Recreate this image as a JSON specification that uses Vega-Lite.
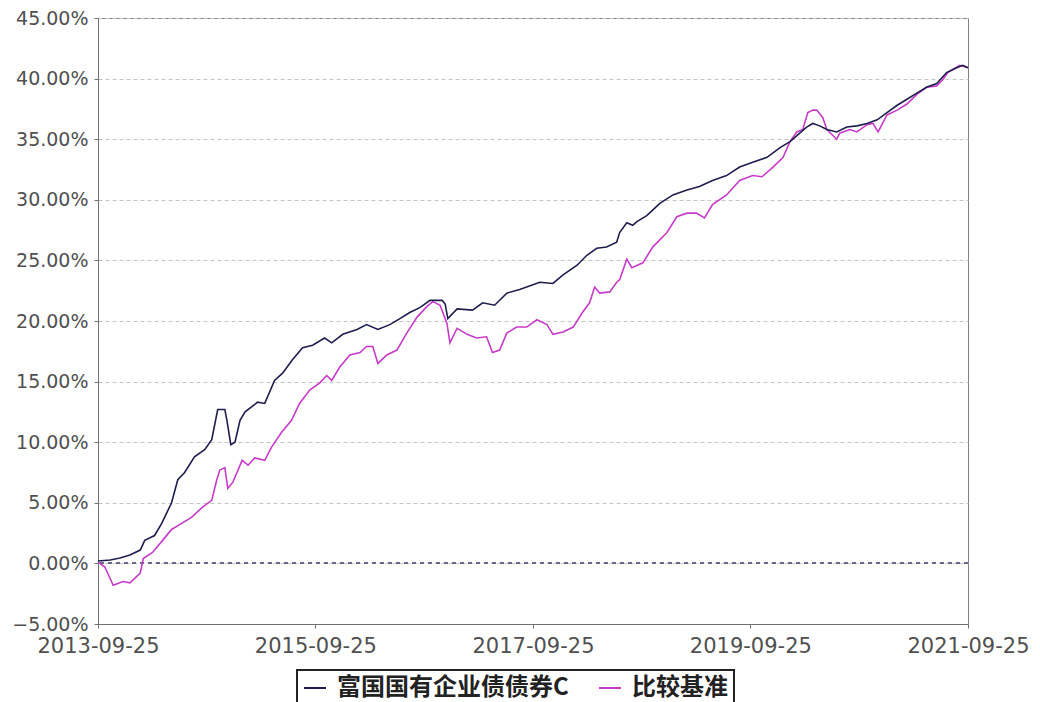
{
  "$schema": "https://vega.github.io/schema/vega-lite/v6.json",
  "width": 870,
  "height": 606,
  "autosize": {"type": "none"},
  "padding": {"left": 98, "top": 18, "right": 72, "bottom": 78},
  "background": "white",
  "config": {
    "view": {"stroke": "#808080", "strokeWidth": 1},
    "axis": {
      "labelFont": "DejaVu Sans",
      "labelFontSize": 19,
      "labelColor": "#505050",
      "domainColor": "#707070",
      "tickColor": "#707070",
      "tickSize": 4,
      "title": null
    },
    "legend": {"strokeWidth": 2}
  },
  "data": {
    "values": [
      {"d": "2013-09-25", "s": "比较基准", "v": 0.1},
      {"d": "2013-10-18", "s": "比较基准", "v": -0.3},
      {"d": "2013-11-15", "s": "比较基准", "v": -1.8},
      {"d": "2013-12-18", "s": "比较基准", "v": -1.5},
      {"d": "2014-01-10", "s": "比较基准", "v": -1.6},
      {"d": "2014-02-14", "s": "比较基准", "v": -0.8},
      {"d": "2014-02-24", "s": "比较基准", "v": 0.4},
      {"d": "2014-03-27", "s": "比较基准", "v": 0.9},
      {"d": "2014-04-30", "s": "比较基准", "v": 1.9},
      {"d": "2014-05-30", "s": "比较基准", "v": 2.8},
      {"d": "2014-07-03", "s": "比较基准", "v": 3.3},
      {"d": "2014-08-05", "s": "比较基准", "v": 3.8},
      {"d": "2014-09-09", "s": "比较基准", "v": 4.6},
      {"d": "2014-10-12", "s": "比较基准", "v": 5.2},
      {"d": "2014-10-29", "s": "比较基准", "v": 6.9},
      {"d": "2014-11-08", "s": "比较基准", "v": 7.7},
      {"d": "2014-11-25", "s": "比较基准", "v": 7.9},
      {"d": "2014-12-05", "s": "比较基准", "v": 6.2},
      {"d": "2014-12-22", "s": "比较基准", "v": 6.7},
      {"d": "2015-01-22", "s": "比较基准", "v": 8.5},
      {"d": "2015-02-11", "s": "比较基准", "v": 8.1},
      {"d": "2015-03-05", "s": "比较基准", "v": 8.7},
      {"d": "2015-04-08", "s": "比较基准", "v": 8.5},
      {"d": "2015-05-01", "s": "比较基准", "v": 9.6},
      {"d": "2015-06-03", "s": "比较基准", "v": 10.8},
      {"d": "2015-07-07", "s": "比较基准", "v": 11.8},
      {"d": "2015-08-03", "s": "比较基准", "v": 13.2},
      {"d": "2015-09-06", "s": "比较基准", "v": 14.3},
      {"d": "2015-10-10", "s": "比较基准", "v": 14.9},
      {"d": "2015-11-02", "s": "比较基准", "v": 15.5},
      {"d": "2015-11-19", "s": "比较基准", "v": 15.1},
      {"d": "2015-12-16", "s": "比较基准", "v": 16.2},
      {"d": "2016-01-19", "s": "比较基准", "v": 17.2},
      {"d": "2016-02-22", "s": "比较基准", "v": 17.4},
      {"d": "2016-03-15", "s": "比较基准", "v": 17.9},
      {"d": "2016-04-05", "s": "比较基准", "v": 17.9},
      {"d": "2016-04-22", "s": "比较基准", "v": 16.5},
      {"d": "2016-05-22", "s": "比较基准", "v": 17.2},
      {"d": "2016-06-25", "s": "比较基准", "v": 17.6},
      {"d": "2016-07-28", "s": "比较基准", "v": 19.0},
      {"d": "2016-08-31", "s": "比较基准", "v": 20.3},
      {"d": "2016-10-04", "s": "比较基准", "v": 21.2},
      {"d": "2016-10-24", "s": "比较基准", "v": 21.6},
      {"d": "2016-11-17", "s": "比较基准", "v": 21.3},
      {"d": "2016-12-10", "s": "比较基准", "v": 19.8},
      {"d": "2016-12-20", "s": "比较基准", "v": 18.2},
      {"d": "2017-01-13", "s": "比较基准", "v": 19.4},
      {"d": "2017-02-16", "s": "比较基准", "v": 18.9},
      {"d": "2017-03-19", "s": "比较基准", "v": 18.6},
      {"d": "2017-04-22", "s": "比较基准", "v": 18.7},
      {"d": "2017-05-12", "s": "比较基准", "v": 17.4},
      {"d": "2017-06-05", "s": "比较基准", "v": 17.6},
      {"d": "2017-06-29", "s": "比较基准", "v": 19.0},
      {"d": "2017-08-01", "s": "比较基准", "v": 19.5},
      {"d": "2017-09-04", "s": "比较基准", "v": 19.5},
      {"d": "2017-10-08", "s": "比较基准", "v": 20.1},
      {"d": "2017-11-11", "s": "比较基准", "v": 19.7},
      {"d": "2017-12-01", "s": "比较基准", "v": 18.9},
      {"d": "2018-01-04", "s": "比较基准", "v": 19.1},
      {"d": "2018-02-07", "s": "比较基准", "v": 19.5},
      {"d": "2018-03-10", "s": "比较基准", "v": 20.7},
      {"d": "2018-04-03", "s": "比较基准", "v": 21.5},
      {"d": "2018-04-20", "s": "比较基准", "v": 22.8},
      {"d": "2018-05-07", "s": "比较基准", "v": 22.3},
      {"d": "2018-06-10", "s": "比较基准", "v": 22.4},
      {"d": "2018-07-03", "s": "比较基准", "v": 23.2},
      {"d": "2018-07-13", "s": "比较基准", "v": 23.4},
      {"d": "2018-08-06", "s": "比较基准", "v": 25.1},
      {"d": "2018-08-23", "s": "比较基准", "v": 24.4},
      {"d": "2018-09-29", "s": "比较基准", "v": 24.8},
      {"d": "2018-11-01", "s": "比较基准", "v": 26.1},
      {"d": "2018-12-19", "s": "比较基准", "v": 27.3},
      {"d": "2019-01-21", "s": "比较基准", "v": 28.6},
      {"d": "2019-02-24", "s": "比较基准", "v": 28.9},
      {"d": "2019-03-28", "s": "比较基准", "v": 28.9},
      {"d": "2019-04-24", "s": "比较基准", "v": 28.5},
      {"d": "2019-05-21", "s": "比较基准", "v": 29.6},
      {"d": "2019-07-07", "s": "比较基准", "v": 30.4},
      {"d": "2019-08-20", "s": "比较基准", "v": 31.6},
      {"d": "2019-10-03", "s": "比较基准", "v": 32.0},
      {"d": "2019-11-03", "s": "比较基准", "v": 31.9},
      {"d": "2019-12-10", "s": "比较基准", "v": 32.7},
      {"d": "2020-01-13", "s": "比较基准", "v": 33.5},
      {"d": "2020-02-05", "s": "比较基准", "v": 34.8},
      {"d": "2020-02-28", "s": "比较基准", "v": 35.6},
      {"d": "2020-03-19", "s": "比较基准", "v": 35.8},
      {"d": "2020-04-05", "s": "比较基准", "v": 37.2},
      {"d": "2020-04-22", "s": "比较基准", "v": 37.4},
      {"d": "2020-05-05", "s": "比较基准", "v": 37.4},
      {"d": "2020-05-25", "s": "比较基准", "v": 36.8},
      {"d": "2020-06-08", "s": "比较基准", "v": 35.8},
      {"d": "2020-07-11", "s": "比较基准", "v": 35.0},
      {"d": "2020-07-21", "s": "比较基准", "v": 35.5},
      {"d": "2020-08-24", "s": "比较基准", "v": 35.8},
      {"d": "2020-09-17", "s": "比较基准", "v": 35.6},
      {"d": "2020-10-21", "s": "比较基准", "v": 36.2},
      {"d": "2020-11-10", "s": "比较基准", "v": 36.3},
      {"d": "2020-11-27", "s": "比较基准", "v": 35.6},
      {"d": "2020-12-27", "s": "比较基准", "v": 37.0},
      {"d": "2021-01-30", "s": "比较基准", "v": 37.4},
      {"d": "2021-03-04", "s": "比较基准", "v": 37.9},
      {"d": "2021-04-06", "s": "比较基准", "v": 38.7},
      {"d": "2021-05-10", "s": "比较基准", "v": 39.3},
      {"d": "2021-06-12", "s": "比较基准", "v": 39.4},
      {"d": "2021-07-02", "s": "比较基准", "v": 39.9},
      {"d": "2021-07-19", "s": "比较基准", "v": 40.5},
      {"d": "2021-08-28", "s": "比较基准", "v": 41.1},
      {"d": "2021-09-25", "s": "比较基准", "v": 40.9},
      {"d": "2013-09-25", "s": "富国国有企业债债券C", "v": 0.2},
      {"d": "2013-11-05", "s": "富国国有企业债债券C", "v": 0.28},
      {"d": "2013-12-08", "s": "富国国有企业债债券C", "v": 0.45},
      {"d": "2014-01-10", "s": "富国国有企业债债券C", "v": 0.7},
      {"d": "2014-02-14", "s": "富国国有企业债债券C", "v": 1.1},
      {"d": "2014-03-01", "s": "富国国有企业债债券C", "v": 1.9},
      {"d": "2014-04-03", "s": "富国国有企业债债券C", "v": 2.3},
      {"d": "2014-04-27", "s": "富国国有企业债债券C", "v": 3.3},
      {"d": "2014-05-30", "s": "富国国有企业债债券C", "v": 5.0},
      {"d": "2014-06-20", "s": "富国国有企业债债券C", "v": 6.9},
      {"d": "2014-07-13", "s": "富国国有企业债债券C", "v": 7.5},
      {"d": "2014-08-15", "s": "富国国有企业债债券C", "v": 8.8},
      {"d": "2014-09-19", "s": "富国国有企业债债券C", "v": 9.4},
      {"d": "2014-10-12", "s": "富国国有企业债债券C", "v": 10.2},
      {"d": "2014-11-01", "s": "富国国有企业债债券C", "v": 12.7},
      {"d": "2014-11-25", "s": "富国国有企业债债券C", "v": 12.7},
      {"d": "2014-12-02", "s": "富国国有企业债债券C", "v": 11.8},
      {"d": "2014-12-15", "s": "富国国有企业债债券C", "v": 9.8},
      {"d": "2014-12-29", "s": "富国国有企业债债券C", "v": 10.0},
      {"d": "2015-01-15", "s": "富国国有企业债债券C", "v": 11.8},
      {"d": "2015-02-01", "s": "富国国有企业债债券C", "v": 12.5},
      {"d": "2015-03-15", "s": "富国国有企业债债券C", "v": 13.3},
      {"d": "2015-04-08", "s": "富国国有企业债债券C", "v": 13.2},
      {"d": "2015-05-11", "s": "富国国有企业债债券C", "v": 15.1},
      {"d": "2015-06-07", "s": "富国国有企业债债券C", "v": 15.7},
      {"d": "2015-07-10", "s": "富国国有企业债债券C", "v": 16.8},
      {"d": "2015-08-13", "s": "富国国有企业债债券C", "v": 17.8},
      {"d": "2015-09-16", "s": "富国国有企业债债券C", "v": 18.0},
      {"d": "2015-10-26", "s": "富国国有企业债债券C", "v": 18.6},
      {"d": "2015-11-19", "s": "富国国有企业债债券C", "v": 18.2},
      {"d": "2015-12-26", "s": "富国国有企业债债券C", "v": 18.9},
      {"d": "2016-02-12", "s": "富国国有企业债债券C", "v": 19.3},
      {"d": "2016-03-15", "s": "富国国有企业债债券C", "v": 19.7},
      {"d": "2016-04-22", "s": "富国国有企业债债券C", "v": 19.3},
      {"d": "2016-06-01", "s": "富国国有企业债债券C", "v": 19.7},
      {"d": "2016-07-05", "s": "富国国有企业债债券C", "v": 20.2},
      {"d": "2016-08-07", "s": "富国国有企业债债券C", "v": 20.7},
      {"d": "2016-09-10", "s": "富国国有企业债债券C", "v": 21.1},
      {"d": "2016-10-14", "s": "富国国有企业债债券C", "v": 21.7},
      {"d": "2016-11-24", "s": "富国国有企业债债券C", "v": 21.7},
      {"d": "2016-12-04", "s": "富国国有企业债债券C", "v": 21.4},
      {"d": "2016-12-13", "s": "富国国有企业债债券C", "v": 20.2},
      {"d": "2017-01-13", "s": "富国国有企业债债券C", "v": 21.0},
      {"d": "2017-03-06", "s": "富国国有企业债债券C", "v": 20.9},
      {"d": "2017-04-09", "s": "富国国有企业债债券C", "v": 21.5},
      {"d": "2017-05-19", "s": "富国国有企业债债券C", "v": 21.3},
      {"d": "2017-06-29", "s": "富国国有企业债债券C", "v": 22.3},
      {"d": "2017-08-11", "s": "富国国有企业债债券C", "v": 22.6},
      {"d": "2017-10-18", "s": "富国国有企业债债券C", "v": 23.2},
      {"d": "2017-12-01", "s": "富国国有企业债债券C", "v": 23.1},
      {"d": "2018-01-04", "s": "富国国有企业债债券C", "v": 23.8},
      {"d": "2018-02-20", "s": "富国国有企业债债券C", "v": 24.6},
      {"d": "2018-03-24", "s": "富国国有企业债债券C", "v": 25.4},
      {"d": "2018-04-27", "s": "富国国有企业债债券C", "v": 26.0},
      {"d": "2018-05-30", "s": "富国国有企业债债券C", "v": 26.1},
      {"d": "2018-07-03", "s": "富国国有企业债债券C", "v": 26.5},
      {"d": "2018-07-13", "s": "富国国有企业债债券C", "v": 27.3},
      {"d": "2018-08-06", "s": "富国国有企业债债券C", "v": 28.1},
      {"d": "2018-08-26", "s": "富国国有企业债债券C", "v": 27.9},
      {"d": "2018-09-09", "s": "富国国有企业债债券C", "v": 28.2},
      {"d": "2018-10-12", "s": "富国国有企业债债券C", "v": 28.7},
      {"d": "2018-11-25", "s": "富国国有企业债债券C", "v": 29.7},
      {"d": "2019-01-08", "s": "富国国有企业债债券C", "v": 30.4},
      {"d": "2019-02-24", "s": "富国国有企业债债券C", "v": 30.8},
      {"d": "2019-04-07", "s": "富国国有企业债债券C", "v": 31.1},
      {"d": "2019-05-21", "s": "富国国有企业债债券C", "v": 31.6},
      {"d": "2019-07-07", "s": "富国国有企业债债券C", "v": 32.0},
      {"d": "2019-08-20", "s": "富国国有企业债债券C", "v": 32.7},
      {"d": "2019-10-03", "s": "富国国有企业债债券C", "v": 33.1},
      {"d": "2019-11-20", "s": "富国国有企业债债券C", "v": 33.5},
      {"d": "2020-01-03", "s": "富国国有企业债债券C", "v": 34.3},
      {"d": "2020-02-05", "s": "富国国有企业债债券C", "v": 34.8},
      {"d": "2020-03-09", "s": "富国国有企业债债券C", "v": 35.5},
      {"d": "2020-04-01", "s": "富国国有企业债债券C", "v": 36.0},
      {"d": "2020-04-22", "s": "富国国有企业债债券C", "v": 36.3},
      {"d": "2020-05-15", "s": "富国国有企业债债券C", "v": 36.1},
      {"d": "2020-06-08", "s": "富国国有企业债债券C", "v": 35.8},
      {"d": "2020-07-11", "s": "富国国有企业债债券C", "v": 35.6},
      {"d": "2020-08-14", "s": "富国国有企业债债券C", "v": 36.0},
      {"d": "2020-09-17", "s": "富国国有企业债债券C", "v": 36.1},
      {"d": "2020-10-21", "s": "富国国有企业债债券C", "v": 36.3},
      {"d": "2020-11-24", "s": "富国国有企业债债券C", "v": 36.6},
      {"d": "2020-12-27", "s": "富国国有企业债债券C", "v": 37.2},
      {"d": "2021-01-30", "s": "富国国有企业债债券C", "v": 37.8},
      {"d": "2021-03-04", "s": "富国国有企业债债券C", "v": 38.3},
      {"d": "2021-04-06", "s": "富国国有企业债债券C", "v": 38.8},
      {"d": "2021-05-10", "s": "富国国有企业债债券C", "v": 39.3},
      {"d": "2021-06-12", "s": "富国国有企业债债券C", "v": 39.6},
      {"d": "2021-07-15", "s": "富国国有企业债债券C", "v": 40.5},
      {"d": "2021-08-18", "s": "富国国有企业债债券C", "v": 40.9},
      {"d": "2021-09-07", "s": "富国国有企业债债券C", "v": 41.1},
      {"d": "2021-09-25", "s": "富国国有企业债债券C", "v": 40.9}
    ]
  },
  "layer": [
    {
      "mark": {"type": "rule", "stroke": "#6a6a8c", "strokeDash": [4, 4], "strokeWidth": 1},
      "encoding": {"y": {"datum": 0, "type": "quantitative", "scale": {"domain": [-5, 45]}}}
    },
    {
      "mark": {"type": "line", "strokeWidth": 1.6, "interpolate": "linear"},
      "encoding": {
        "x": {
          "field": "d",
          "type": "temporal",
          "scale": {"type": "utc", "domain": [{"year": 2013, "month": 9, "date": 25, "utc": true}, {"year": 2021, "month": 9, "date": 25, "utc": true}]},
          "axis": {
            "values": [
              {"year": 2013, "month": 9, "date": 25, "utc": true},
              {"year": 2015, "month": 9, "date": 25, "utc": true},
              {"year": 2017, "month": 9, "date": 25, "utc": true},
              {"year": 2019, "month": 9, "date": 25, "utc": true},
              {"year": 2021, "month": 9, "date": 25, "utc": true}
            ],
            "labelExpr": "utcFormat(datum.value, '%Y-%m-%d')",
            "labelFontSize": 21,
            "grid": false,
            "labelOverlap": false,
            "labelFlush": false,
            "labelBound": false,
            "labelPadding": 7
          }
        },
        "y": {
          "field": "v",
          "type": "quantitative",
          "scale": {"domain": [-5, 45], "nice": false, "zero": false},
          "axis": {
            "values": [-5, 0, 5, 10, 15, 20, 25, 30, 35, 40, 45],
            "labelExpr": "format(datum.value, '.2f') + '%'",
            "grid": true,
            "gridColor": "#c4c4c4",
            "gridDash": [4, 3],
            "labelPadding": 6
          }
        },
        "color": {
          "field": "s",
          "type": "nominal",
          "scale": {"domain": ["富国国有企业债债券C", "比较基准"], "range": ["#1e1e4e", "#c73cc7"]},
          "legend": {
            "title": null,
            "orient": "none",
            "legendX": 199,
            "legendY": 652,
            "direction": "horizontal",
            "strokeColor": "#222222",
            "padding": 6,
            "symbolType": "stroke",
            "symbolSize": 484,
            "symbolStrokeWidth": 2,
            "labelFont": "Noto Sans CJK SC",
            "labelFontSize": 24,
            "labelFontWeight": "bold",
            "labelColor": "#222222",
            "labelOffset": 10,
            "columnPadding": 26,
            "labelLimit": 400
          }
        },
        "order": {"field": "d", "type": "temporal"}
      }
    }
  ]
}
